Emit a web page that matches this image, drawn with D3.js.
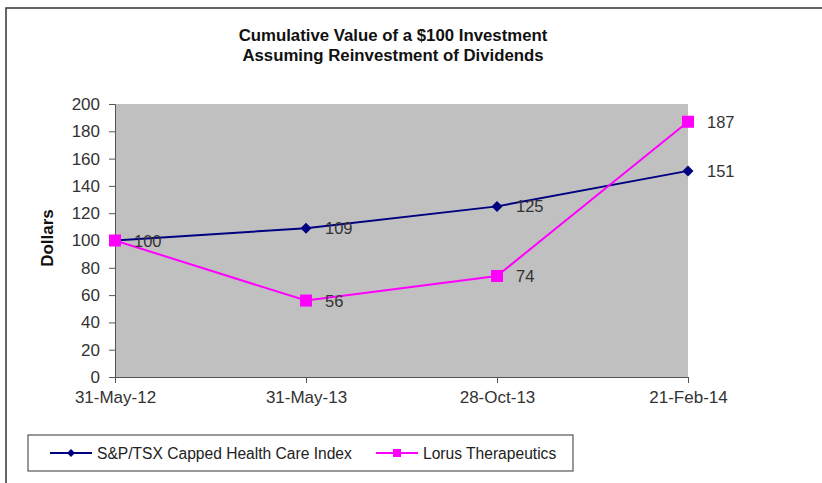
<!DOCTYPE html>
<html>
<head>
<meta charset="utf-8">
<script src="https://cdn.jsdelivr.net/npm/d3@7"></script>
<style>
  body { margin: 0; background: #fff; }
  svg text { font-family: "Liberation Sans", Arial, sans-serif; }
</style>
</head>
<body>
<svg id="chart" width="822" height="483"></svg>
<script>
// chart data
const dates = ["31-May-12", "31-May-13", "28-Oct-13", "21-Feb-14"];
const spTsx = [100, 109, 125, 151];
const lorus = [100, 56, 74, 187];
const yTicks = [0, 20, 40, 60, 80, 100, 120, 140, 160, 180, 200];

const svg = d3.select("#chart");

// outer frame
svg.append("path")
  .attr("d", "M6,483 V8 H822")
  .attr("fill", "none")
  .attr("stroke", "#333")
  .attr("stroke-width", 1.5);

const plot = { left: 115, right: 688, top: 104, bottom: 377 };

const x = d3.scalePoint()
  .domain(dates)
  .range([plot.left, plot.right]);

const y = d3.scaleLinear()
  .domain([0, 200])
  .range([plot.bottom, plot.top]);

// title
svg.append("text")
  .attr("x", 393).attr("y", 41)
  .attr("text-anchor", "middle")
  .attr("font-size", 16.8).attr("font-weight", "bold").attr("fill", "#111")
  .text("Cumulative Value of a $100 Investment");
svg.append("text")
  .attr("x", 393).attr("y", 61)
  .attr("text-anchor", "middle")
  .attr("font-size", 16.8).attr("font-weight", "bold").attr("fill", "#111")
  .text("Assuming Reinvestment of Dividends");

// plot background
svg.append("rect")
  .attr("x", plot.left).attr("y", plot.top)
  .attr("width", plot.right - plot.left)
  .attr("height", plot.bottom - plot.top)
  .attr("fill", "#c0c0c0");

// y axis
const yAxis = svg.append("g")
  .attr("transform", `translate(${plot.left},0)`)
  .call(d3.axisLeft(y).tickValues(yTicks).tickSize(6).tickPadding(9));
yAxis.select(".domain").attr("stroke", "#555");
yAxis.selectAll(".tick line").attr("stroke", "#555");
yAxis.selectAll("text").attr("font-size", 17).attr("fill", "#333")
  .style("font-family", "'Liberation Sans', Arial, sans-serif");

// x axis
const xAxis = svg.append("g")
  .attr("transform", `translate(0,${plot.bottom})`)
  .call(d3.axisBottom(x).tickSize(6).tickPadding(8).tickSizeOuter(0));
xAxis.select(".domain").attr("stroke", "#555");
xAxis.selectAll(".tick line").attr("stroke", "#555");
xAxis.selectAll("text").attr("font-size", 17).attr("fill", "#333")
  .style("font-family", "'Liberation Sans', Arial, sans-serif");

// y label
svg.append("text")
  .attr("transform", "translate(53,238) rotate(-90)")
  .attr("text-anchor", "middle")
  .attr("font-size", 17).attr("font-weight", "bold").attr("fill", "#111")
  .text("Dollars");

const line = d3.line()
  .x((d, i) => x(dates[i]))
  .y(d => y(d));

const series = [
  { name: "S&P/TSX Capped Health Care Index", values: spTsx, color: "#000080", marker: "diamond" },
  { name: "Lorus Therapeutics", values: lorus, color: "#ff00ff", marker: "square" }
];

function drawMarker(g, type, cx, cy, color, r) {
  if (type === "diamond") {
    g.append("path")
      .attr("d", `M${cx},${cy - r} L${cx + r},${cy} L${cx},${cy + r} L${cx - r},${cy} Z`)
      .attr("fill", color);
  } else {
    g.append("rect")
      .attr("x", cx - r).attr("y", cy - r)
      .attr("width", 2 * r).attr("height", 2 * r)
      .attr("fill", color);
  }
}

series.forEach(s => {
  const g = svg.append("g");
  g.append("path")
    .datum(s.values)
    .attr("d", line)
    .attr("fill", "none")
    .attr("stroke", s.color)
    .attr("stroke-width", 2);
  s.values.forEach((v, i) => drawMarker(g, s.marker, x(dates[i]), y(v), s.color, s.marker === "diamond" ? 5.5 : 6));
});

// data labels
series.forEach(s => {
  s.values.forEach((v, i) => {
    if (s.marker === "square" && i === 0) return; // shared "100" label
    svg.append("text")
      .attr("x", x(dates[i]) + 19)
      .attr("y", y(v) + 6)
      .attr("font-size", 16.5).attr("fill", "#333")
      .text(v);
  });
});

// legend
const lg = svg.append("g");
lg.append("rect")
  .attr("x", 28).attr("y", 435)
  .attr("width", 545).attr("height", 36)
  .attr("fill", "#fff")
  .attr("stroke", "#555")
  .attr("stroke-width", 1.2);
const legendItems = [
  { s: series[0], x0: 50 },
  { s: series[1], x0: 376 }
];
legendItems.forEach(it => {
  lg.append("line")
    .attr("x1", it.x0).attr("x2", it.x0 + 42)
    .attr("y1", 453).attr("y2", 453)
    .attr("stroke", it.s.color).attr("stroke-width", 2);
  drawMarker(lg, it.s.marker, it.x0 + 21, 453, it.s.color, 4);
  lg.append("text")
    .attr("x", it.x0 + 47).attr("y", 459)
    .attr("font-size", 15.6).attr("fill", "#222")
    .text(it.s.name);
});
</script>
</body>
</html>
